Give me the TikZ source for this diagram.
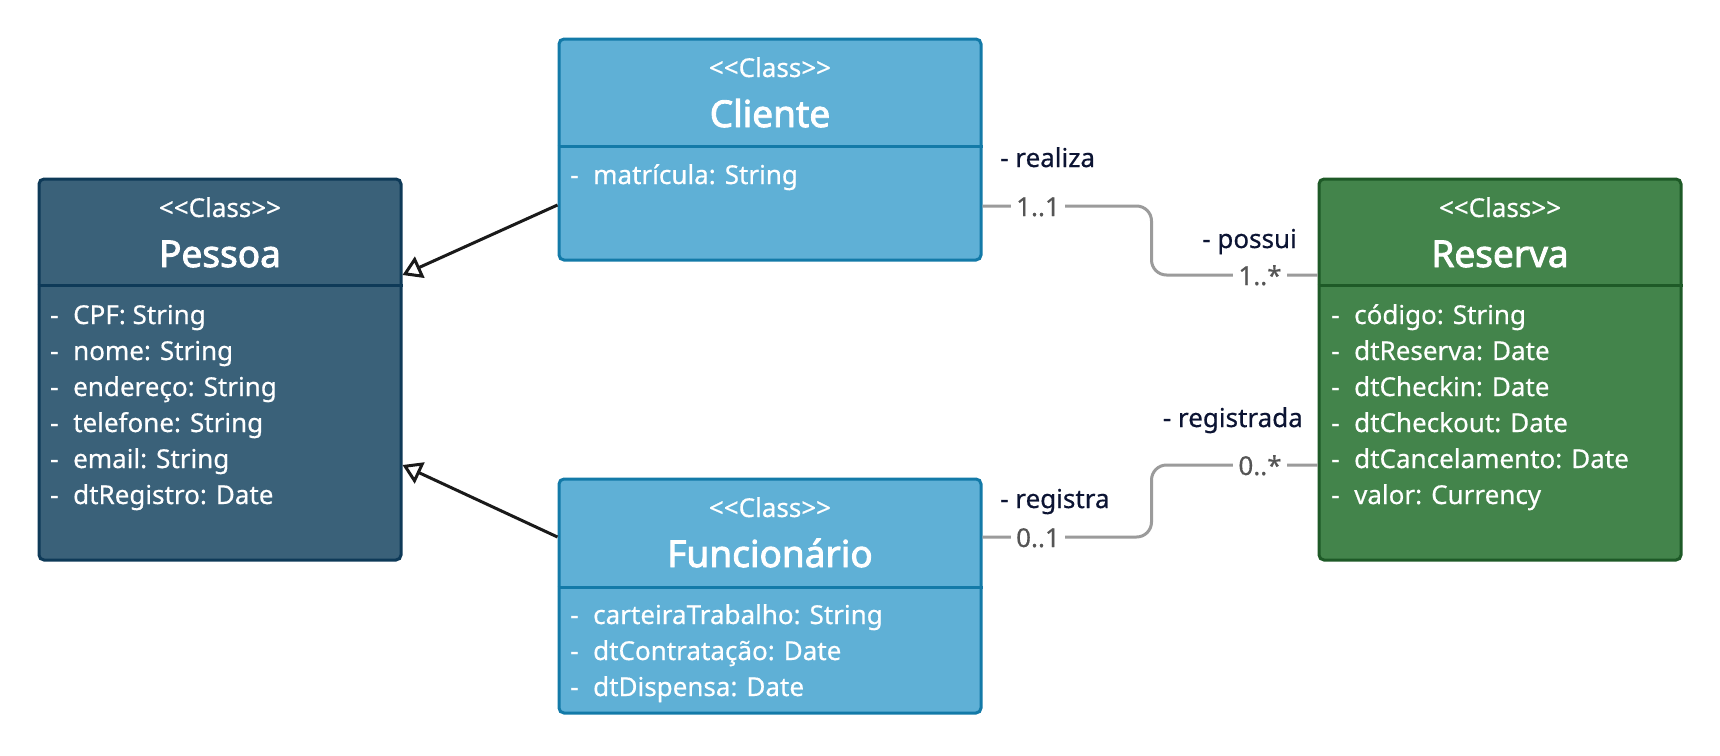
\documentclass[tikz,border=0pt]{standalone}
\usepackage{fontspec}
\setmainfont{Noto Sans}[FakeBold=0.5,RawFeature={embolden=0.5}]
\newfontfamily\titlefont{Noto Sans}[FakeBold=2.4,RawFeature={embolden=2.4}]
\usetikzlibrary{arrows.meta}
\definecolor{pfill}{HTML}{3A6179}
\definecolor{pdraw}{HTML}{0E3A58}
\definecolor{cfill}{HTML}{5FB0D6}
\definecolor{cdraw}{HTML}{137AA8}
\definecolor{rfill}{HTML}{43844B}
\definecolor{rdraw}{HTML}{1E5A27}
\definecolor{conn}{HTML}{9B9B9B}
\definecolor{lbl}{HTML}{0C1433}
\definecolor{multc}{HTML}{555555}
\definecolor{genc}{HTML}{1A1A1A}
\begin{document}
\begin{tikzpicture}[x=1pt,y=-1pt,
  classbox/.style={draw, line width=3pt, rounded corners=5pt, inner sep=0pt},
  divider/.style={line width=3pt},
  stereo/.style={anchor=base, text=white, inner sep=0pt, font=\fontsize{26}{30}\selectfont},
  clstitle/.style={anchor=base, text=white, inner sep=0pt, font=\titlefont\fontsize{37}{44}\selectfont},
  clsattr/.style={anchor=base west, text=white, inner sep=0pt, font=\fontsize{26}{36}\selectfont},
  role/.style={text=lbl, inner sep=0pt, font=\fontsize{26}{30}\selectfont},
  mult/.style={anchor=base, text=multc, fill=white, inner xsep=5pt, inner ysep=2pt, font=\fontsize{26}{30}\selectfont},
  assoc/.style={draw=conn, line width=3pt, rounded corners=15pt},
  gen/.style={draw=genc, line width=3pt, -{Triangle[open, length=19pt, width=23pt]}}
]
\newcommand{\dsh}{\makebox[23pt][l]{-}}
\newcommand{\stereotxt}{{<}{<}Class{>}{>}}
\fill[white] (0,0) rectangle (1720,755);
\useasboundingbox (0,0) rectangle (1720,755);

% Pessoa
\node[classbox, draw=pdraw, fill=pfill, minimum width=362pt, minimum height=381pt] (pessoa) at (220,369.5) {};
\draw[divider, pdraw] (pessoa.west |- 0,285) -- (pessoa.east |- 0,285);
\node[stereo] (pst) at (220,217) {\stereotxt};
\node[clstitle] (ptt) at (220,267) {Pessoa};
\node[clsattr] (pa1) at (50,324) {\dsh CPF: String};
\node[clsattr] (pa2) at (50,360) {\dsh nome: String};
\node[clsattr] (pa3) at (50,396) {\dsh endereço: String};
\node[clsattr] (pa4) at (50,432) {\dsh telefone: String};
\node[clsattr] (pa5) at (50,468) {\dsh email: String};
\node[clsattr] (pa6) at (50,504) {\dsh dtRegistro: Date};

% Cliente
\node[classbox, draw=cdraw, fill=cfill, minimum width=422pt, minimum height=221pt] (cliente) at (770,149.5) {};
\draw[divider, cdraw] (cliente.west |- 0,146) -- (cliente.east |- 0,146);
\node[stereo] (cst) at (770,77) {\stereotxt};
\node[clstitle] (ctt) at (770,127) {Cliente};
\node[clsattr] (ca1) at (570,184) {\dsh matrícula: String};

% Funcionario
\node[classbox, draw=cdraw, fill=cfill, minimum width=422pt, minimum height=234pt] (func) at (770,596) {};
\draw[divider, cdraw] (func.west |- 0,587) -- (func.east |- 0,587);
\node[stereo] (fst) at (770,517) {\stereotxt};
\node[clstitle] (ftt) at (770,567) {Funcionário};
\node[clsattr] (fa1) at (570,624) {\dsh carteiraTrabalho: String};
\node[clsattr] (fa2) at (570,660) {\dsh dtContratação: Date};
\node[clsattr] (fa3) at (570,696) {\dsh dtDispensa: Date};

% Reserva
\node[classbox, draw=rdraw, fill=rfill, minimum width=362pt, minimum height=381pt] (reserva) at (1500,369.5) {};
\draw[divider, rdraw] (reserva.west |- 0,285) -- (reserva.east |- 0,285);
\node[stereo] (rst) at (1500,217) {\stereotxt};
\node[clstitle] (rtt) at (1500,267) {Reserva};
\node[clsattr] (ra1) at (1331,324) {\dsh código: String};
\node[clsattr] (ra2) at (1331,360) {\dsh dtReserva: Date};
\node[clsattr] (ra3) at (1331,396) {\dsh dtCheckin: Date};
\node[clsattr] (ra4) at (1331,432) {\dsh dtCheckout: Date};
\node[clsattr] (ra5) at (1331,468) {\dsh dtCancelamento: Date};
\node[clsattr] (ra6) at (1331,504) {\dsh valor: Currency};

% Generalizations
\draw[gen] ([yshift=-55.5pt]cliente.west) -- ([yshift=94.5pt]pessoa.east);
\draw[gen] ([yshift=59pt]func.west) -- ([yshift=-95.5pt]pessoa.east);

% Associations
\draw[assoc] ([yshift=-56.5pt]cliente.east) -- ++(169,0) |- ([yshift=94.5pt]reserva.west);
\draw[assoc] ([yshift=59pt]func.east) -- ++(169,0) |- ([yshift=-95.5pt]reserva.west);

\node[mult] (m1) at (1038,216) {1..1};
\node[mult] (m2) at (1260,285) {1..*};
\node[mult] (m3) at (1038,547) {0..1};
\node[mult] (m4) at (1260,475) {0..*};

\node[role, anchor=base west] (r1) at (1000,167) {- realiza};
\node[role, anchor=base east] (r2) at (1297,248) {- possui};
\node[role, anchor=base west] (r3) at (1000,508) {- registra};
\node[role, anchor=base east] (r4) at (1303,427) {- registrada};
\end{tikzpicture}
\end{document}
